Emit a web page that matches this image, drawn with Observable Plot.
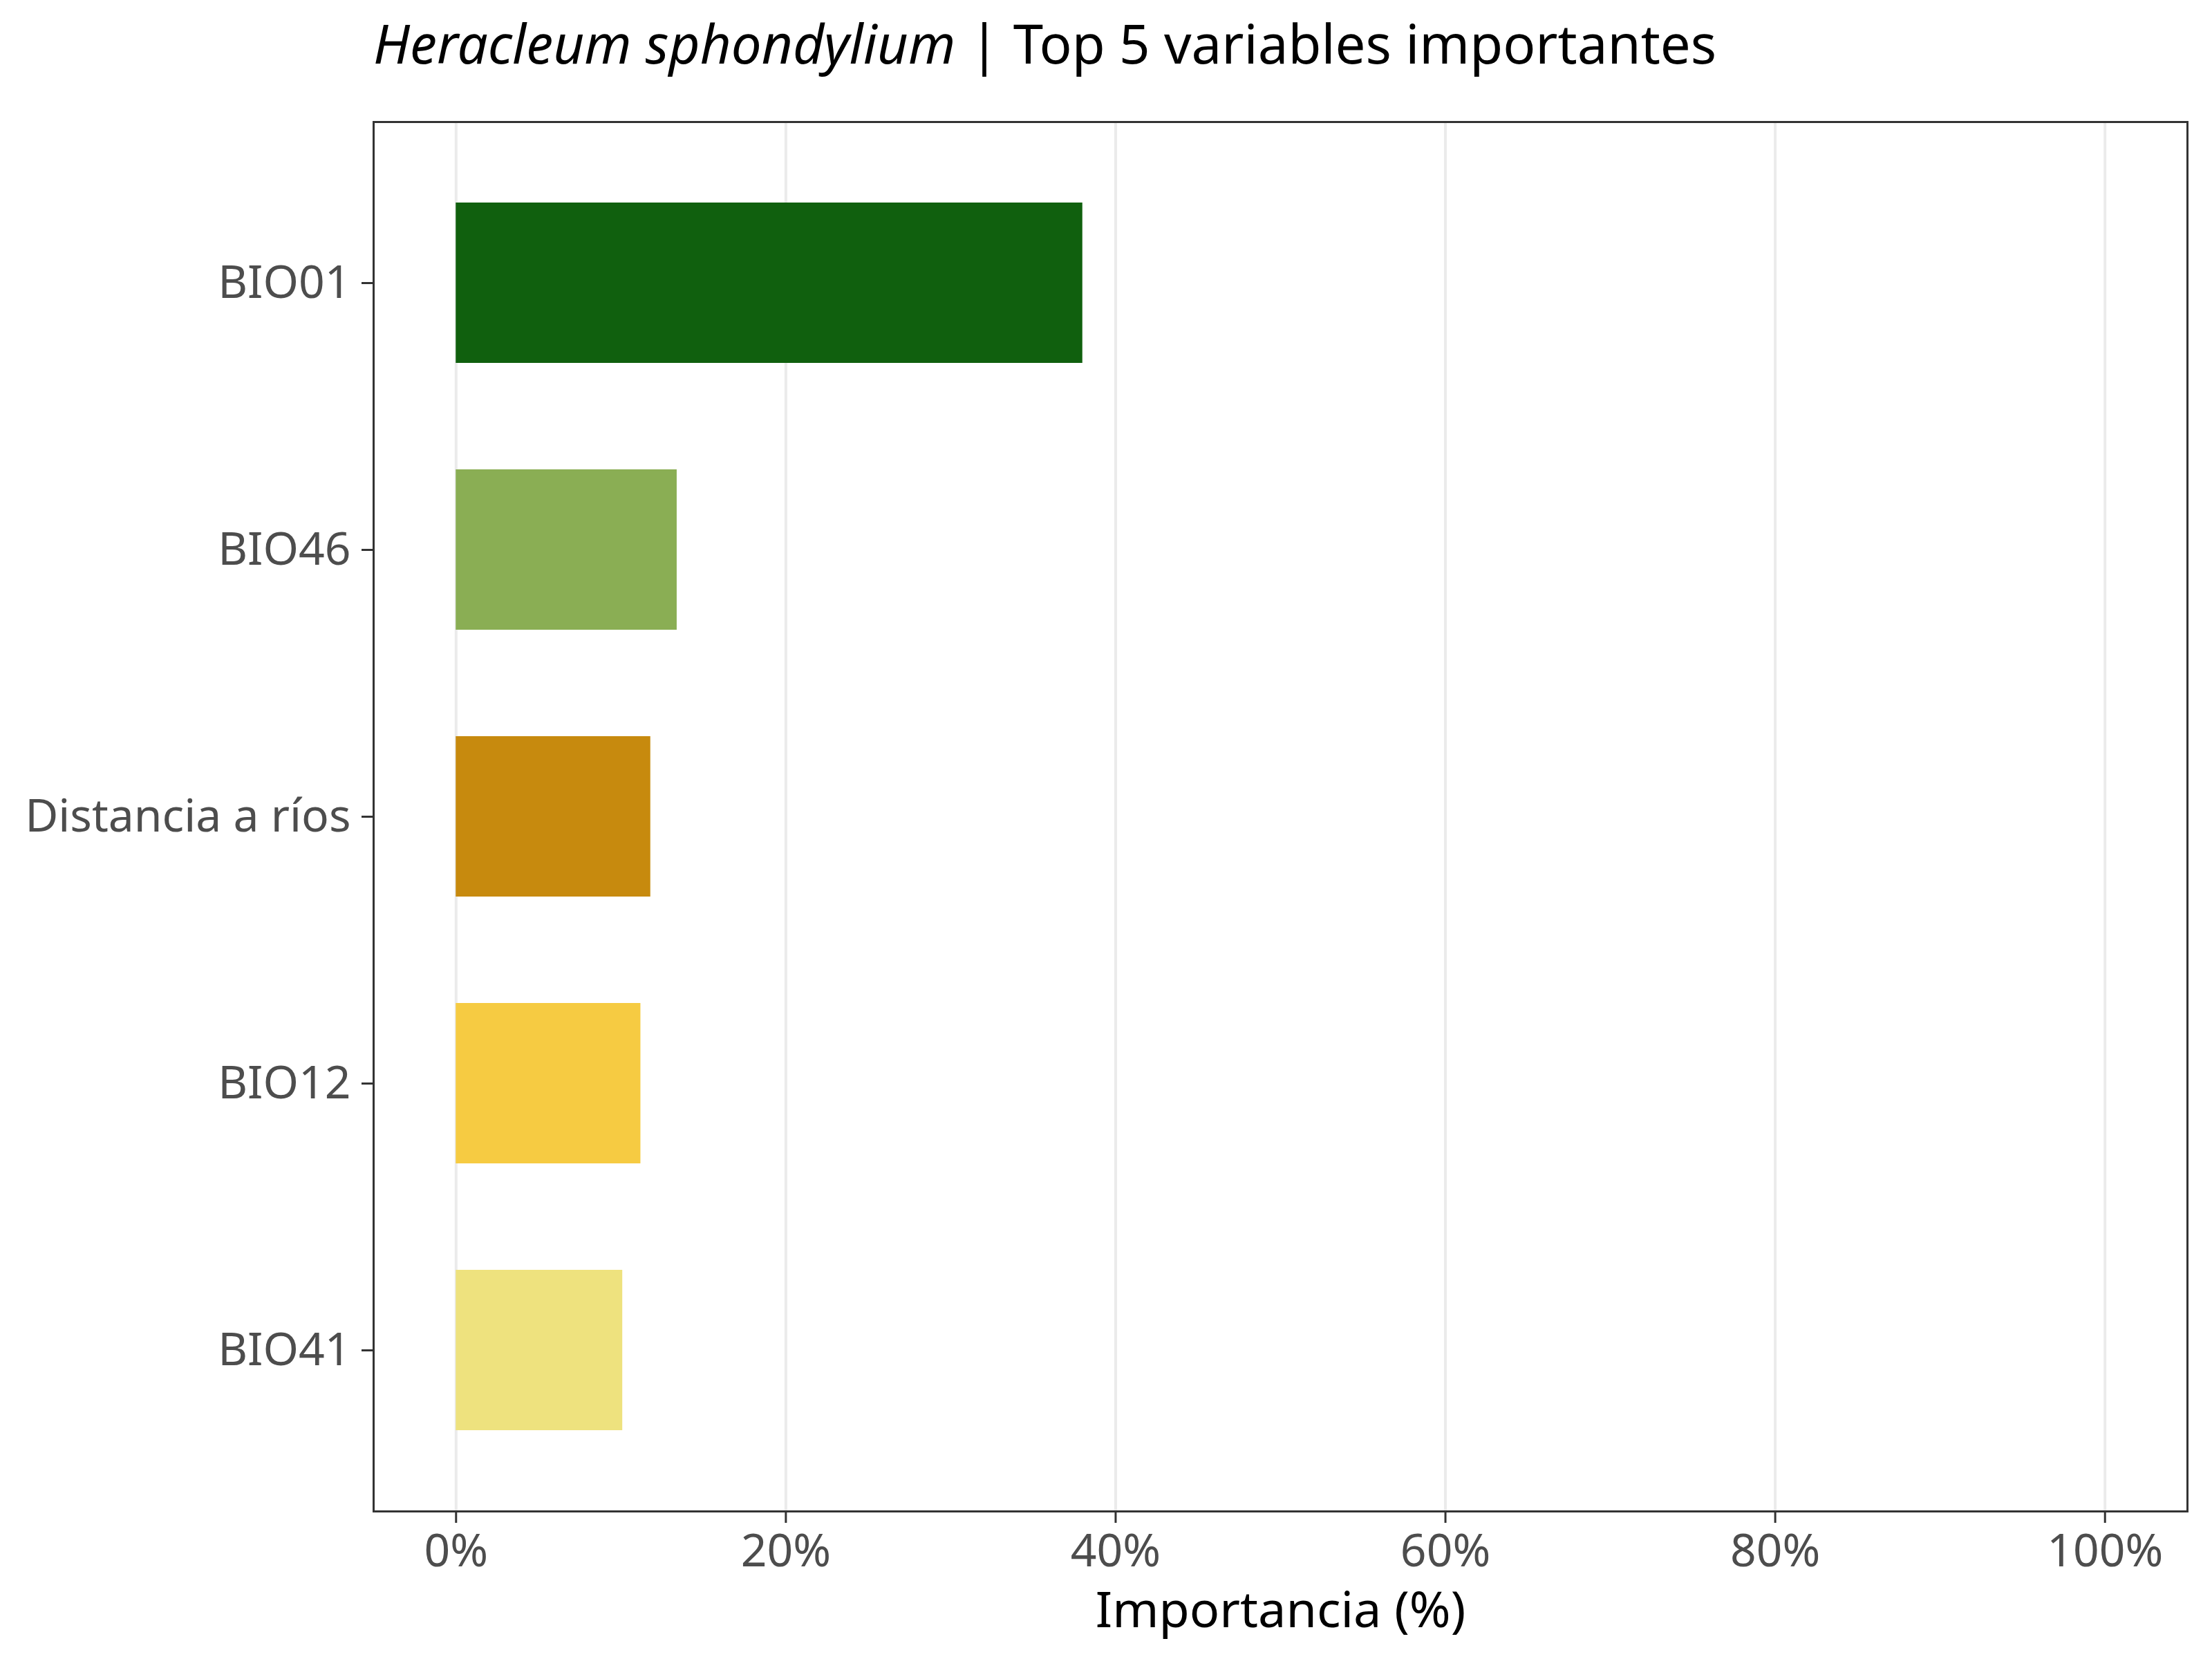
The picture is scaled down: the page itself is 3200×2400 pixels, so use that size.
<!DOCTYPE html>
<html>
<head>
<meta charset="utf-8">
<script src="https://cdn.jsdelivr.net/npm/d3@7"></script>
<script src="https://cdn.jsdelivr.net/npm/@observablehq/plot@0.6"></script>
<style>
  html, body { margin: 0; padding: 0; background: white; }
  #wrap { width: 3200px; height: 2400px; background: white; }
  #title {
    height: 140px; box-sizing: border-box;
    padding-left: 540px; padding-top: 23px;
    font-family: "Noto Sans", sans-serif; font-size: 78px; line-height: 78px;
    color: #000; white-space: nowrap;
  }
  #title i { font-style: italic; }
  svg { display: block; }
</style>
</head>
<body>
<div id="wrap">
  <div id="title"><i>Heracleum sphondylium</i> | Top 5 variables importantes</div>
  <div id="chart"></div>
</div>
<script>
const variables = ["BIO01", "BIO46", "Distancia a ríos", "BIO12", "BIO41"];
const importance = [38.0, 13.4, 11.8, 11.2, 10.1];
const barColors = ["#10600e", "#8aae54", "#c78a0e", "#f6cb42", "#eee27e"];
const xTicks = [0, 20, 40, 60, 80, 100];
const xTitle = "Importancia (%)";

const data = variables.map((v, i) => ({variable: v, value: importance[i], color: barColors[i]}));

const chart = Plot.plot({
  width: 3200,
  height: 2260,
  marginLeft: 540,
  marginRight: 36,
  marginTop: 36,
  marginBottom: 214,
  style: {fontFamily: "Noto Sans", background: "white", color: "#4d4d4d"},
  x: {domain: [-5, 105]},
  y: {domain: variables, paddingInner: 0.4, paddingOuter: 0.3},
  marks: [
    Plot.gridX(xTicks, {stroke: "#ebebeb", strokeOpacity: 1, strokeWidth: 4}),
    Plot.barX(data, {x: "value", y: "variable", fill: "color"}),
    Plot.frame({stroke: "#333333", strokeWidth: 3}),
    Plot.axisX({ticks: xTicks, tickFormat: d => d + "%", tickSize: 17, tickPadding: 16,
      stroke: "#333333", strokeWidth: 3, fill: "#4d4d4d", fontSize: 66, label: null}),
    Plot.axisY({tickSize: 17, tickPadding: 16, stroke: "#333333", strokeWidth: 3,
      fill: "#4d4d4d", fontSize: 66, label: null}),
    Plot.text([xTitle], {frameAnchor: "bottom", lineAnchor: "bottom", dy: 167,
      fontSize: 72, fill: "#000000", text: d => d})
  ]
});
document.getElementById("chart").appendChild(chart);
</script>
</body>
</html>
